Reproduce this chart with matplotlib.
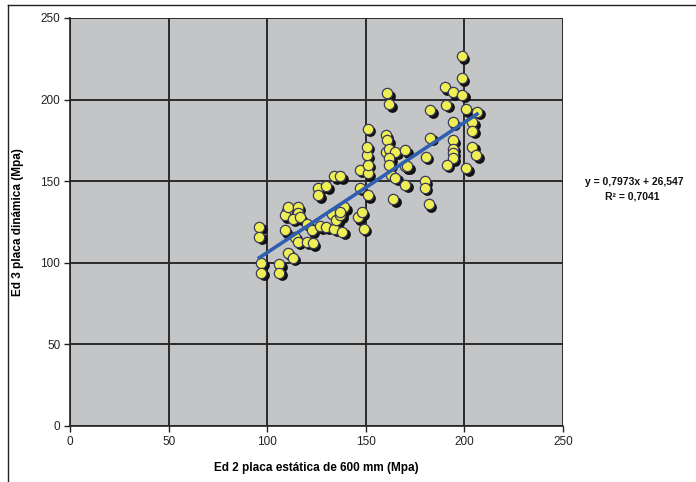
import matplotlib
matplotlib.use("Agg")
import matplotlib.pyplot as plt
import matplotlib.transforms as mtransforms
from matplotlib.lines import Line2D
import numpy as np

plt.rcParams["font.family"] = ["Liberation Sans", "DejaVu Sans"]

# Ed 2 static plate (x) vs Ed 3 dynamic plate (y), MPa
ed2 = [96, 96, 97, 97, 106, 106, 110.5, 113, 110, 109, 110.5, 115.6, 115.6, 113,
       116.6, 109, 114, 115.6, 120, 123, 120, 122.7, 127, 130, 134, 138, 126, 126,
       130, 134, 137, 133, 135, 137, 139, 137, 146, 148, 147, 151, 147, 151, 151,
       150.6, 150.6, 151, 160, 161, 160, 162, 165, 170, 162, 162, 170, 163, 165,
       170, 164, 161, 162, 180.5, 182.6, 180, 180, 182, 182.6, 190.7, 190, 194,
       199, 198.6, 198.6, 200.8, 206.4, 194, 204, 204, 194, 194, 194, 194, 191,
       201, 204, 206, 171, 149]
ed3 = [122, 116, 100, 94, 99, 94, 106, 103, 132, 129, 134, 134, 130.5, 127,
       128, 120, 116, 113, 113, 112, 124, 120, 122.5, 122, 121, 119, 146, 141.5,
       147, 153, 153, 130, 126, 129, 134, 131, 128, 131, 146, 141.5, 157, 155, 160,
       166, 171, 182, 178, 175, 168, 170, 168, 169, 164, 160, 159, 154, 152,
       147.7, 139, 204, 197, 165, 176.5, 150, 146, 136, 193.6, 196.7, 207.7, 204.6,
       203, 226.7, 213, 194, 192.4, 186, 186, 181, 175, 170, 167, 164, 160,
       158, 171, 166, 159, 121]

slope, intercept = 0.7973, 26.547
ticks = [0, 50, 100, 150, 200, 250]

fig = plt.figure(figsize=(6.96, 4.82), dpi=100)
ax = fig.add_axes([0.1006, 0.1162, 0.7083, 0.8465])
ax.set_facecolor("#c4c5c7")
ax.set_xlim(0, 250)
ax.set_ylim(0, 250)
ax.set_xticks(ticks)
ax.set_yticks(ticks)
ax.grid(True, color="#2a2a2a", linewidth=1.4, zorder=1)
ax.set_axisbelow(True)

for side in ("top", "right"):
    ax.spines[side].set_visible(False)
for side in ("left", "bottom"):
    ax.spines[side].set_color("#222222")
    ax.spines[side].set_linewidth(1.2)
ax.tick_params(direction="out", length=4, width=1, color="#222222",
               labelsize=8.5, labelcolor="#222222", pad=3)

# shadow below the markers
shadow = ax.transData + mtransforms.ScaledTranslation(1.8 / 72, -1.8 / 72, fig.dpi_scale_trans)
ax.scatter(ed2, ed3, s=60, color="#111111", transform=shadow, zorder=3, linewidths=0)
ax.scatter(ed2, ed3, s=55, facecolor="#eeee55", edgecolor="#3a3a5a",
           linewidths=0.9, zorder=4)

xfit = np.array([min(ed2), max(ed2)])
ax.plot(xfit, slope * xfit + intercept, color="#2f5fae", linewidth=2.6, zorder=5)

ax.set_xlabel("Ed 2 placa estática de 600 mm (Mpa)", fontsize=8.5,
              fontweight="bold", labelpad=10)
ax.set_ylabel("Ed 3 placa dinámica (Mpa)", fontsize=8.5,
              fontweight="bold", labelpad=12)

fig.text(0.911, 0.622, "y = 0,7973x + 26,547", fontsize=7.5, fontweight="bold",
         ha="center", va="center", color="#111111")
fig.text(0.908, 0.593, "R² = 0,7041", fontsize=7.5, fontweight="bold",
         ha="center", va="center", color="#111111")

# chart frame (left and top edges)
fig.add_artist(Line2D([8 / 696, 8 / 696], [0, 1 - 5 / 482], color="#222222", linewidth=1))
fig.add_artist(Line2D([8 / 696, 1], [1 - 5 / 482, 1 - 5 / 482], color="#222222", linewidth=1))

fig.savefig("out.png", dpi=100)
